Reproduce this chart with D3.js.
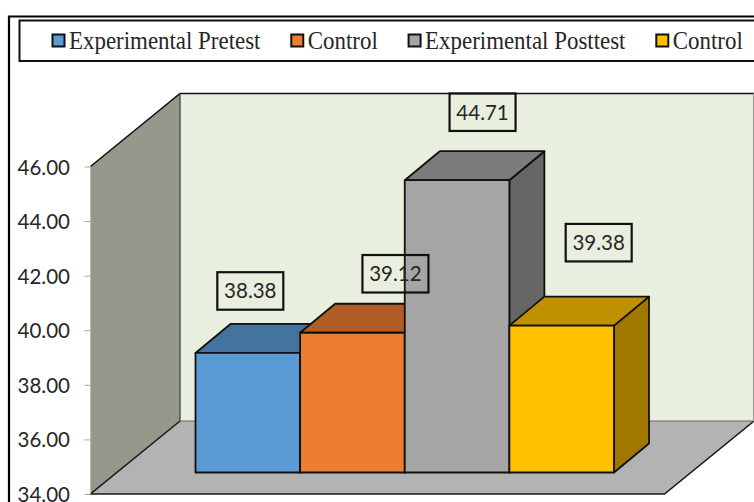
<!DOCTYPE html>
<html>
<head>
<meta charset="utf-8">
<script src="https://cdn.jsdelivr.net/npm/d3@7"></script>
<style>
html,body{margin:0;padding:0;background:#fff;overflow:hidden}
svg{display:block}
</style>
</head>
<body>
<svg id="chart" width="754" height="502"></svg>
<script>
// Series and axis values
const seriesNames = ["Experimental Pretest", "Control", "Experimental Posttest", "Control"];
const seriesValues = [38.38, 39.12, 44.71, 39.38];
const valueLabels = ["38.38", "39.12", "44.71", "39.38"];
const tickValues = [34, 36, 38, 40, 42, 44, 46];

// Face colours of each bar
const frontColors = ["#5b9bd5", "#ed7d31", "#a5a5a5", "#ffc000"];
const topColors = ["#44739f", "#b25d25", "#7c7c7c", "#bf9000"];
const sideColors = ["#3d6a94", "#a0531f", "#666666", "#a07800"];
const swatchColors = ["#5b9bd5", "#ed7d31", "#a5a5a5", "#ffc000"];

// Manually placed data-label boxes, relative to each bar's top centre
const labelShiftX = [2.5, 43, 25.5, 37];
const labelShiftY = [-62, -59, -68, -83];

const svg = d3.select("#chart");

const y = d3.scaleLinear().domain([34, 46]).range([494, 166.5]);
const x = d3.scaleBand().domain(d3.range(seriesValues.length)).range([195.5, 614]);

// Oblique projection: the floor recedes up and to the right
const wallDepth = {dx: 89.5, dy: -73};
const barLift = -21.5;
const barDepth = {dx: 35, dy: -29};
const axisX = 90.5;
const wallRight = 754;

const pts = a => a.map(p => p.join(",")).join(" ");
const yMin = y(34), yMax = y(46);

// Outer frame, running off the bottom and right edges
svg.append("path")
  .attr("d", "M9,502V16.5H754")
  .attr("fill", "none").attr("stroke", "#000").attr("stroke-width", 2.2);

// Legend box
const legendG = svg.append("g");
legendG.append("path")
  .attr("d", "M754,20.5H19.5V61H754")
  .attr("fill", "#fff").attr("stroke", "#111").attr("stroke-width", 2);

// Legend entries flow left to right; the serif face is set slightly condensed
const legendSqueeze = 0.935;
let legendX = 52;
seriesNames.forEach((name, i) => {
  legendG.append("rect")
    .attr("x", legendX + .5).attr("y", 34.5).attr("width", 12).attr("height", 12)
    .attr("fill", swatchColors[i]).attr("stroke", "#111").attr("stroke-width", 2);
  const t = legendG.append("text")
    .attr("x", legendX + 17).attr("y", 48.7)
    .attr("font-family", "'Liberation Serif', serif")
    .attr("font-size", 24.5).attr("fill", "#262626")
    .text(name);
  const w = t.node().getComputedTextLength() * legendSqueeze;
  t.attr("textLength", w).attr("lengthAdjust", "spacingAndGlyphs");
  legendX += 17 + w + 30.3;
});

// Left wall
svg.append("polygon")
  .attr("points", pts([[axisX, yMin], [axisX, yMax], [axisX + wallDepth.dx, yMax + wallDepth.dy], [axisX + wallDepth.dx, yMin + wallDepth.dy]]))
  .attr("fill", "#96988c");
// Back wall
svg.append("rect")
  .attr("x", axisX + wallDepth.dx).attr("y", yMax + wallDepth.dy)
  .attr("width", wallRight - axisX - wallDepth.dx).attr("height", yMin - yMax)
  .attr("fill", "#e9efdf");
// Floor
svg.append("polygon")
  .attr("points", pts([[axisX, yMin], [axisX + wallDepth.dx, yMin + wallDepth.dy], [wallRight, yMin + wallDepth.dy], [wallRight - wallDepth.dx, yMin]]))
  .attr("fill", "#b3b3b3");

// Wall and floor edges
svg.append("path")
  .attr("d", `M${axisX},${yMax}L${axisX + wallDepth.dx},${yMax + wallDepth.dy}H${wallRight}`)
  .attr("fill", "none").attr("stroke", "#111").attr("stroke-width", 1.6);
svg.append("path")
  .attr("d", `M${axisX + wallDepth.dx},${yMax + wallDepth.dy}V${yMin + wallDepth.dy}`)
  .attr("fill", "none").attr("stroke", "#444").attr("stroke-width", 1.3);
svg.append("path")
  .attr("d", `M${axisX + wallDepth.dx},${yMin + wallDepth.dy}L${axisX},${yMin}H${wallRight - wallDepth.dx}L${wallRight},${yMin + wallDepth.dy}`)
  .attr("fill", "none").attr("stroke", "#1a1a1a").attr("stroke-width", 1.6);
svg.append("path")
  .attr("d", `M${axisX + wallDepth.dx},${yMin + wallDepth.dy}H${wallRight}`)
  .attr("fill", "none").attr("stroke", "#666").attr("stroke-width", 1);
svg.append("line")
  .attr("x1", wallRight - .5).attr("x2", wallRight - .5).attr("y1", yMax + wallDepth.dy).attr("y2", yMin + wallDepth.dy)
  .attr("stroke", "#999").attr("stroke-width", 1);
svg.append("line")
  .attr("x1", axisX).attr("x2", axisX).attr("y1", yMax).attr("y2", yMin)
  .attr("stroke", "#bdbdbd").attr("stroke-width", 1);

// Value axis
const axis = d3.axisLeft(y).tickValues(tickValues).tickFormat(d3.format(".2f")).tickSize(6).tickPadding(14.5);
const axisG = svg.append("g").attr("transform", `translate(${axisX},0)`).call(axis);
axisG.select(".domain").remove();
axisG.selectAll(".tick line").attr("stroke", "#a6a6a6");
axisG.selectAll(".tick text")
  .attr("y", 1)
  .attr("font-family", "Lato, sans-serif").attr("font-size", 20.5).attr("fill", "#262626");

// Bars, painted left to right so each one hides its neighbour's side
const bars = svg.append("g").selectAll("g").data(seriesValues).join("g")
  .attr("stroke", "#111").attr("stroke-width", 1.8).attr("stroke-linejoin", "round");
const corners = (d, i) => {
  const l = x(i), r = l + x.bandwidth();
  const b = y(34) + barLift, t = y(d) + barLift;
  return {l, r, b, t};
};
bars.append("polygon")
  .attr("points", (d, i) => { const c = corners(d, i);
    return pts([[c.r, c.t], [c.r + barDepth.dx, c.t + barDepth.dy], [c.r + barDepth.dx, c.b + barDepth.dy], [c.r, c.b]]); })
  .attr("fill", (d, i) => sideColors[i]);
bars.append("polygon")
  .attr("points", (d, i) => { const c = corners(d, i);
    return pts([[c.l, c.t], [c.l + barDepth.dx, c.t + barDepth.dy], [c.r + barDepth.dx, c.t + barDepth.dy], [c.r, c.t]]); })
  .attr("fill", (d, i) => topColors[i]);
bars.append("rect")
  .attr("x", (d, i) => corners(d, i).l)
  .attr("y", (d, i) => corners(d, i).t)
  .attr("width", x.bandwidth())
  .attr("height", (d, i) => { const c = corners(d, i); return c.b - c.t; })
  .attr("fill", (d, i) => frontColors[i]);

// Data labels in open boxes
const boxW = 66, boxH = 37.5;
const labels = svg.append("g").selectAll("g").data(seriesValues).join("g")
  .attr("transform", (d, i) => {
    const c = corners(d, i);
    return `translate(${(c.l + c.r) / 2 + labelShiftX[i]},${c.t + labelShiftY[i]})`;
  });
labels.append("rect")
  .attr("x", -boxW / 2).attr("y", -boxH / 2).attr("width", boxW).attr("height", boxH)
  .attr("fill", "none").attr("stroke", "#111").attr("stroke-width", 2.2);
labels.append("text")
  .attr("text-anchor", "middle").attr("y", 7.5)
  .attr("font-family", "Lato, sans-serif").attr("font-size", 20.5).attr("fill", "#262626")
  .text((d, i) => valueLabels[i]);
</script>
</body>
</html>
